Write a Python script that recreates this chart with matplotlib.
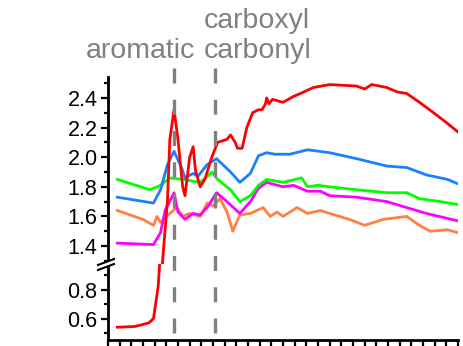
import matplotlib
matplotlib.use("Agg")
import matplotlib.pyplot as plt
from matplotlib.lines import Line2D
from matplotlib.patches import Polygon
from matplotlib.ticker import MultipleLocator, FormatStrFormatter

plt.rcParams['font.family'] = ['Liberation Sans', 'DejaVu Sans']
plt.rcParams['lines.scale_dashes'] = False

# ---------------- data (photon energy, eV) ----------------
red_x = [280.8, 282.3, 283.5, 283.9, 284.3, 284.7, 285.1, 285.3, 285.66, 286.0, 286.4, 286.6,
         287.0, 287.3, 287.5, 287.9, 288.3, 288.9, 289.4, 290.2, 290.5, 290.9, 291.1, 291.5,
         291.9, 292.4, 292.9, 293.2, 293.5, 293.6, 293.8, 294.1, 295.0, 295.9, 296.5, 297.6,
         299.0, 301.3, 302.0, 302.6, 303.9, 304.8, 305.6, 306.7, 307.9, 308.9, 310.0]
red_y = [0.54, 0.545, 0.57, 0.60, 0.82, 1.32, 1.71, 2.12, 2.32, 2.12, 1.80, 1.74,
         2.00, 2.07, 1.91, 1.80, 1.85, 2.00, 2.10, 2.12, 2.15, 2.10, 2.06, 2.06,
         2.20, 2.30, 2.32, 2.32, 2.36, 2.40, 2.36, 2.39, 2.37, 2.41, 2.43, 2.47,
         2.49, 2.48, 2.46, 2.49, 2.47, 2.44, 2.43, 2.37, 2.30, 2.24, 2.17]

blue_x = [280.8, 283.9, 284.5, 285.1, 285.66, 286.3, 286.6, 287.3, 287.7, 288.5, 289.3,
          290.5, 291.3, 292.2, 292.9, 293.6, 294.3, 295.6, 297.1, 299.0, 301.3, 303.9,
          305.6, 307.3, 309.1, 310.0]
blue_y = [1.73, 1.69, 1.78, 1.95, 2.04, 1.93, 1.86, 1.89, 1.87, 1.95, 1.99,
          1.90, 1.83, 1.89, 2.01, 2.03, 2.02, 2.02, 2.05, 2.03, 1.99, 1.94,
          1.93, 1.88, 1.85, 1.82]

green_x = [280.8, 283.6, 284.5, 285.3, 286.4, 287.9, 288.5, 288.9, 289.4, 290.5, 291.3,
           292.2, 292.9, 293.6, 295.0, 296.6, 297.1, 298.0, 299.0, 301.3, 303.9, 305.6,
           306.7, 308.5, 310.0]
green_y = [1.85, 1.78, 1.81, 1.86, 1.85, 1.83, 1.87, 1.90, 1.85, 1.78, 1.70,
           1.74, 1.81, 1.85, 1.83, 1.86, 1.80, 1.81, 1.80, 1.78, 1.76, 1.76,
           1.72, 1.70, 1.68]

magenta_x = [280.8, 283.9, 284.5, 284.9, 285.66, 286.0, 286.6, 287.3, 287.9, 288.5, 289.3,
             290.2, 291.3, 292.2, 292.9, 293.6, 295.0, 295.9, 297.1, 298.2, 299.0, 301.3,
             303.9, 305.6, 307.3, 310.0]
magenta_y = [1.42, 1.41, 1.49, 1.64, 1.76, 1.63, 1.58, 1.62, 1.61, 1.66, 1.76,
             1.70, 1.62, 1.70, 1.79, 1.83, 1.80, 1.81, 1.77, 1.77, 1.74, 1.73,
             1.70, 1.66, 1.62, 1.57]

orange_x = [280.8, 283.0, 283.9, 284.2, 284.5, 285.3, 285.9, 286.4, 287.0, 287.9, 288.5,
            289.0, 289.6, 290.2, 290.7, 291.3, 292.2, 293.3, 293.9, 294.5, 295.0, 296.2,
            297.1, 298.2, 299.0, 300.7, 302.0, 303.6, 305.6, 306.7, 307.6, 309.1, 310.0]
orange_y = [1.64, 1.58, 1.54, 1.60, 1.56, 1.62, 1.66, 1.60, 1.62, 1.60, 1.69,
            1.67, 1.72, 1.63, 1.50, 1.61, 1.62, 1.66, 1.60, 1.63, 1.60, 1.66,
            1.62, 1.64, 1.62, 1.58, 1.54, 1.58, 1.60, 1.54, 1.50, 1.51, 1.49]

series = [
    (orange_x, orange_y, '#FF8040'),
    (magenta_x, magenta_y, '#FF00FF'),
    (green_x, green_y, '#00FF00'),
    (blue_x, blue_y, '#1A80FF'),
    (red_x, red_y, '#FF0000'),
]

marker_x = [285.66, 289.17]
marker_labels = ['aromatic', 'carboxyl\ncarbonyl']

# ---------------- layout ----------------
W, H = 463, 346
fig = plt.figure(figsize=(W / 100, H / 100), dpi=100)

def fx(px):
    return px / W

def fy(py):
    return 1 - py / H

left, right = 108, 458
ax_up = fig.add_axes([fx(left), fy(264), fx(right) - fx(left), fy(77) - fy(264)])
ax_lo = fig.add_axes([fx(left), fy(340), fx(right) - fx(left), fy(264) - fy(340)])

for ax in (ax_up, ax_lo):
    for xs, ys, c in series:
        ax.plot(xs, ys, color=c, lw=2.0, solid_joinstyle='round')
    ax.set_xlim(280, 310)
    ax.spines['top'].set_visible(False)
    ax.spines['right'].set_visible(False)
    ax.spines['left'].set_linewidth(2.0)
    ax.spines['bottom'].set_linewidth(2.0)
    ax.tick_params(axis='y', which='major', direction='out', length=5, width=1.6,
                   labelsize=15.5, pad=2.5)
    ax.tick_params(axis='y', which='minor', direction='out', length=3, width=1.6)
    ax.set_facecolor('none')

ax_up.set_ylim(1.279, 2.541)
ax_up.yaxis.set_major_locator(MultipleLocator(0.2))
ax_up.yaxis.set_minor_locator(MultipleLocator(0.1))
ax_up.spines['bottom'].set_visible(False)
ax_up.set_xticks([])

ax_lo.set_ylim(0.452, 0.976)
ax_lo.yaxis.set_major_locator(MultipleLocator(0.2))
ax_lo.yaxis.set_minor_locator(MultipleLocator(0.1))
ax_lo.xaxis.set_major_locator(MultipleLocator(1))
ax_lo.tick_params(axis='x', which='major', direction='out', length=5, width=1.6,
                  labelbottom=False)

ax_up.yaxis.set_major_formatter(FormatStrFormatter('%.1f'))
ax_lo.yaxis.set_major_formatter(FormatStrFormatter('%.1f'))

# dashed markers spanning both panels
h_up = 264 - 77
for xm in marker_x:
    ax_up.axvline(xm, ymin=(264 - 333) / h_up, ymax=(264 - 68) / h_up, color='#808080',
                  lw=2.4, dashes=(10.8, 11.7), clip_on=False, zorder=5)

# labels
fig.text(fx(195), fy(58), marker_labels[0], ha='right', va='baseline',
         fontsize=20.5, color='#808080')
lines = marker_labels[1].split('\n')
fig.text(fx(204), fy(28), lines[0], ha='left', va='baseline', fontsize=20.5, color='#808080')
fig.text(fx(204), fy(58), lines[1], ha='left', va='baseline', fontsize=20.5, color='#808080')

# axis break mark
gap = Polygon([[fx(98), fy(265)], [fx(114), fy(259)], [fx(114), fy(264)], [fx(98), fy(270)]],
              closed=True, transform=fig.transFigure, facecolor='white', edgecolor='none',
              zorder=10)
fig.add_artist(gap)
for off in (0, 5):
    fig.add_artist(Line2D([fx(98), fx(114)], [fy(265 + off), fy(259 + off)],
                          transform=fig.transFigure, color='black', lw=1.5, zorder=11))

fig.savefig('out.png', dpi=100)
